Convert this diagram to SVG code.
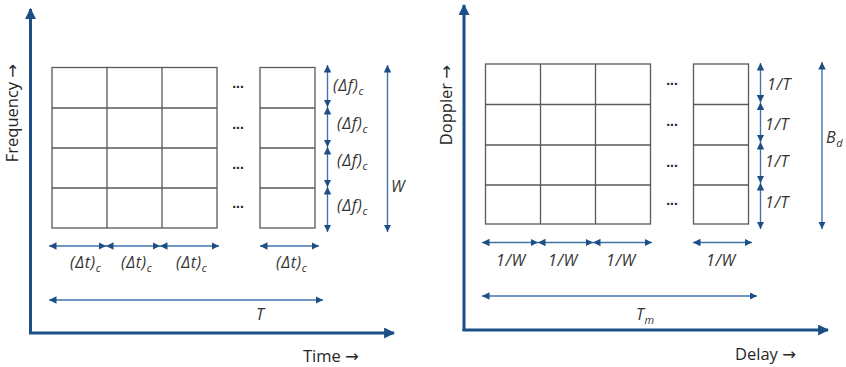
<svg xmlns="http://www.w3.org/2000/svg" width="846" height="367" viewBox="0 0 846 367">
  <defs>
    <marker id="axhead" viewBox="0 0 10 10" refX="9" refY="5" markerUnits="userSpaceOnUse" markerWidth="11" markerHeight="11" orient="auto">
      <path d="M0,0 L10,5 L0,10 z" fill="#1b4f86"/>
    </marker>
    <marker id="dimhead" viewBox="0 0 8 8" refX="8" refY="4" markerUnits="userSpaceOnUse" markerWidth="7.5" markerHeight="7.5" orient="auto-start-reverse">
      <path d="M0,0 L8,4 L0,8 z" fill="#1d4f86"/>
    </marker>
  </defs>
  <style>
    .axis { stroke: #1b4f86; stroke-width: 3; fill: none; marker-end: url(#axhead); }
    .dim { stroke: #3f74ad; stroke-width: 1.4; fill: none; marker-start: url(#dimhead); marker-end: url(#dimhead); }
    .cell { fill: #ffffff; stroke: #595959; stroke-width: 1.3; }
    .lbl { font-family: "Open Sans", "Liberation Sans", sans-serif; font-style: italic; font-size: 16px; letter-spacing: 0.6px; fill: #333333; }
    .sub { font-size: 11px; letter-spacing: 0; }
    .axlbl { font-family: "Open Sans", "Liberation Sans", sans-serif; font-size: 16.5px; fill: #262626; }
    .arr { font-family: "DejaVu Sans", sans-serif; }
    .dots { font-family: "Liberation Sans", sans-serif; font-weight: bold; font-size: 14px; fill: #222222; text-anchor: middle; }
  </style>

  <!-- Time–frequency plane -->
  <g id="tf-axes">
    <line class="axis" x1="30.5" y1="334" x2="30.5" y2="9"/>
    <line class="axis" x1="29" y1="333" x2="394" y2="333"/>
    <text class="axlbl" transform="translate(18,113) rotate(-90)" text-anchor="middle">Frequency <tspan class="arr">→</tspan></text>
    <text class="axlbl" x="303" y="362">Time <tspan class="arr">→</tspan></text>
  </g>

  <g id="tf-grid">
    <rect class="cell" x="52" y="67.5" width="165" height="160.5"/>
    <path class="cell" d="M107,67.5 V228 M162,67.5 V228 M52,108 H217 M52,148 H217 M52,188 H217"/>
    <rect class="cell" x="260" y="67.5" width="55" height="160.5"/>
    <path class="cell" d="M260,108 H315 M260,148 H315 M260,188 H315"/>
    <text class="dots" x="238" y="88">...</text>
    <text class="dots" x="238" y="129">...</text>
    <text class="dots" x="238" y="169">...</text>
    <text class="dots" x="238" y="208">...</text>
  </g>

  <g id="tf-dimensions">
    <line class="dim" x1="327.5" y1="65" x2="327.5" y2="107"/>
    <line class="dim" x1="327.5" y1="107" x2="327.5" y2="147"/>
    <line class="dim" x1="327.5" y1="147" x2="327.5" y2="187"/>
    <line class="dim" x1="327.5" y1="187" x2="327.5" y2="232"/>
    <line class="dim" x1="387.5" y1="65" x2="387.5" y2="232"/>
    <line class="dim" x1="49" y1="246" x2="106" y2="246"/>
    <line class="dim" x1="106" y1="246" x2="160" y2="246"/>
    <line class="dim" x1="160" y1="246" x2="219" y2="246"/>
    <line class="dim" x1="260" y1="246" x2="319" y2="246"/>
    <line class="dim" x1="49" y1="300" x2="323" y2="300"/>
  </g>

  <g id="tf-labels">
    <text class="lbl" x="333" y="91">(Δf)<tspan class="sub" dy="4">c</tspan></text>
    <text class="lbl" x="337" y="129">(Δf)<tspan class="sub" dy="4">c</tspan></text>
    <text class="lbl" x="337" y="166">(Δf)<tspan class="sub" dy="4">c</tspan></text>
    <text class="lbl" x="337" y="211">(Δf)<tspan class="sub" dy="4">c</tspan></text>
    <text class="lbl" x="391" y="192">W</text>
    <text class="lbl" x="70" y="268">(Δt)<tspan class="sub" dy="4">c</tspan></text>
    <text class="lbl" x="121" y="268">(Δt)<tspan class="sub" dy="4">c</tspan></text>
    <text class="lbl" x="176" y="268">(Δt)<tspan class="sub" dy="4">c</tspan></text>
    <text class="lbl" x="276" y="268">(Δt)<tspan class="sub" dy="4">c</tspan></text>
    <text class="lbl" x="256" y="320">T</text>
  </g>

  <!-- Delay–Doppler plane -->
  <g id="dd-axes">
    <line class="axis" x1="464" y1="331" x2="464" y2="5"/>
    <line class="axis" x1="462.5" y1="330" x2="828" y2="330"/>
    <text class="axlbl" transform="translate(452,105) rotate(-90)" text-anchor="middle">Doppler <tspan class="arr">→</tspan></text>
    <text class="axlbl" x="735" y="360">Delay <tspan class="arr">→</tspan></text>
  </g>

  <g id="dd-grid">
    <rect class="cell" x="485.5" y="64" width="165" height="160"/>
    <path class="cell" d="M540.5,64 V224 M595.5,64 V224 M485.5,104.5 H650.5 M485.5,145 H650.5 M485.5,185 H650.5"/>
    <rect class="cell" x="693.5" y="64" width="55" height="160"/>
    <path class="cell" d="M693.5,104.5 H748.5 M693.5,145 H748.5 M693.5,185 H748.5"/>
    <text class="dots" x="672" y="85">...</text>
    <text class="dots" x="672" y="126">...</text>
    <text class="dots" x="672" y="167">...</text>
    <text class="dots" x="672" y="205">...</text>
  </g>

  <g id="dd-dimensions">
    <line class="dim" x1="760.5" y1="63" x2="760.5" y2="102.5"/>
    <line class="dim" x1="760.5" y1="102.5" x2="760.5" y2="142"/>
    <line class="dim" x1="760.5" y1="142" x2="760.5" y2="183"/>
    <line class="dim" x1="760.5" y1="183" x2="760.5" y2="229"/>
    <line class="dim" x1="822" y1="62" x2="822" y2="229"/>
    <line class="dim" x1="482" y1="242.5" x2="538" y2="242.5"/>
    <line class="dim" x1="538" y1="242.5" x2="593" y2="242.5"/>
    <line class="dim" x1="593" y1="242.5" x2="652" y2="242.5"/>
    <line class="dim" x1="693" y1="242.5" x2="752" y2="242.5"/>
    <line class="dim" x1="482" y1="296" x2="757" y2="296"/>
  </g>

  <g id="dd-labels">
    <text class="lbl" x="767" y="90">1/T</text>
    <text class="lbl" x="765" y="130">1/T</text>
    <text class="lbl" x="765" y="167">1/T</text>
    <text class="lbl" x="765" y="208">1/T</text>
    <text class="lbl" x="826" y="143">B<tspan class="sub" dy="4">d</tspan></text>
    <text class="lbl" x="496" y="266">1/W</text>
    <text class="lbl" x="548" y="266">1/W</text>
    <text class="lbl" x="606" y="266">1/W</text>
    <text class="lbl" x="706" y="266">1/W</text>
    <text class="lbl" x="636" y="320">T<tspan class="sub" dy="4">m</tspan></text>
  </g>
</svg>
